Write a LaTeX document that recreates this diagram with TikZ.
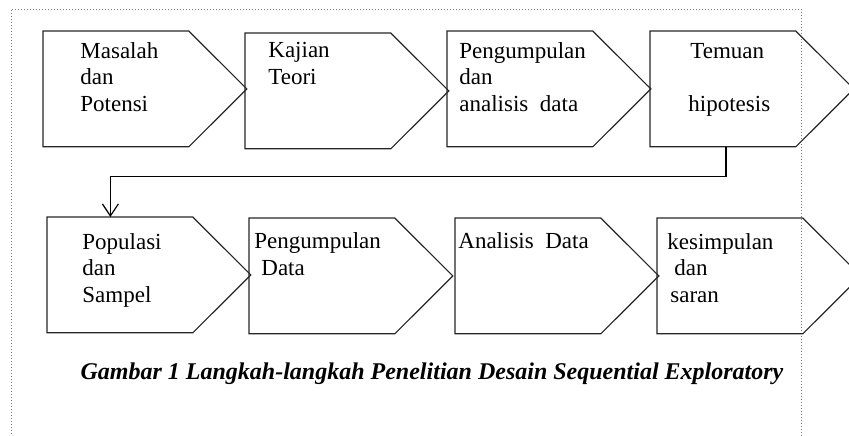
\documentclass[tikz,border=0pt]{standalone}
\usepackage{fontspec}
\setmainfont{Liberation Serif}
\usetikzlibrary{arrows.meta}

\begin{document}
\begin{tikzpicture}[x=0.5pt, y=-0.5pt,
    body/.style={rectangle, inner sep=0pt, anchor=north west,
      minimum width=72.5pt, minimum height=57.5pt},
    steptext/.style={anchor=base west, inner sep=0pt, align=left,
      font=\fontsize{11.5}{13.2}\selectfont},
    flow/.style={line width=0.6pt,
      -{Straight Barb[length=6pt, width=8pt, line width=0.6pt]}}]
    \useasboundingbox (0,0) rectangle (849,435);

    % dotted frame, open at the bottom
    \draw [densely dotted, gray, line width=0.5pt] (11,440) -- (11,9) -- (801.5,9) -- (801.5,440);

    % first row
    \node [body] (masalah) at (43,31) {};
    \node [body] (kajian) at (245,33) {};
    \node [body] (pengumpulan) at (447,31) {};
    \node [body] (temuan) at (650,31) {};

    % second row
    \node [body] (populasi) at (47,217) {};
    \node [body] (datapengumpulan) at (249,218) {};
    \node [body] (analisis) at (455,218) {};
    \node [body] (kesimpulan) at (657,218) {};

    \foreach \b in {masalah, kajian, pengumpulan, temuan,
                    populasi, datapengumpulan, analisis, kesimpulan}
    {
      \draw [line width=0.6pt, black!85, line join=miter]
        (\b.north west) -- (\b.north east) -- ([xshift=29pt]\b.east)
        -- (\b.south east) -- (\b.south west) -- cycle;
    }

    % texts sit on the baseline of their last line
    \node [steptext] (masalah-text) at (80,111) {Masalah\\dan\\Potensi};
    \node [steptext] (kajian-text) at (268,84) {Kajian\\Teori};
    \node [steptext] (pengumpulan-text) at (459,111) {Pengumpulan\\dan\\analisis\ \ data};
    \node [steptext] (temuan-text) at (688,111) {\hspace{1pt}Temuan\\{}\\hipotesis};

    \node [steptext] (populasi-text) at (82,302) {Populasi\\dan\\Sampel};
    \node [steptext] (datapengumpulan-text) at (254,275) {Pengumpulan\\\hspace{3.5pt}Data};
    \node [steptext] (analisis-text) at (458,248) {Analisis\ \ Data};
    \node [steptext] (kesimpulan-text) at (667,302) {kesimpulan\\\hspace{3.5pt}dan\\\hspace{1.5pt}saran};

    \draw [flow] ([xshift=1.5pt]temuan.south) -- ++(0,30) -| ([xshift=-4.75pt]populasi.north);

    \node [anchor=base, font=\fontsize{12}{14}\selectfont\bfseries\itshape] (caption) at (432,379)
      {Gambar 1 Langkah-langkah Penelitian Desain Sequential Exploratory};

  \end{tikzpicture}
\end{document}
